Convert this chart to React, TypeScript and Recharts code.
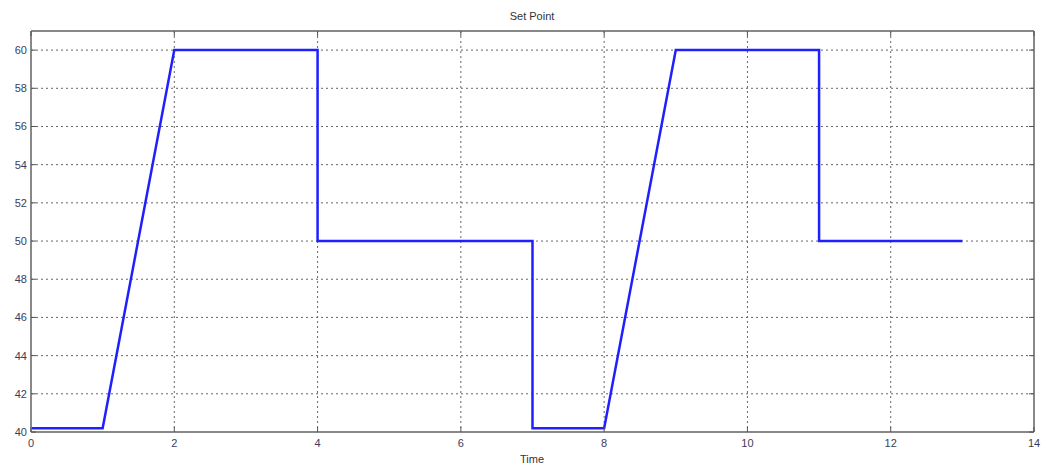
import React from "react";
import { LineChart, Line, XAxis, YAxis, CartesianGrid, ReferenceLine } from "recharts";

// set point profile over time
const times = [0, 1, 2, 4, 4, 7, 7, 8, 9, 11, 11, 13];
const setPoints = [40.2, 40.2, 60, 60, 50, 50, 40.2, 40.2, 60, 60, 50, 50];
const xTicks = [0, 2, 4, 6, 8, 10, 12, 14];
const yTicks = [40, 42, 44, 46, 48, 50, 52, 54, 56, 58, 60];

const W = 1042;
const H = 468;
const M = { top: 31, right: 8, left: 31, bottom: 36 };
const plotW = W - M.left - M.right;
const plotH = H - M.top - M.bottom;

const data = times.map((t, i) => ({ t, sp: setPoints[i] }));

const labelColor = "#3c3c5c";
const font = "'Liberation Sans', Arial, sans-serif";

// MATLAB style ticks: inside the box, on both sides
const YTick = ({ x, y, payload }: any) => (
  <g>
    <line x1={x} x2={x + 5} y1={y} y2={y} stroke="#555" strokeWidth={1} />
    <line x1={x + plotW - 5} x2={x + plotW} y1={y} y2={y} stroke="#555" strokeWidth={1} />
    <text x={x - 4} y={y} dy={4} textAnchor="end" fontSize={11} fill={labelColor} fontFamily={font}>
      {payload.value}
    </text>
  </g>
);

const XTick = ({ x, y, payload }: any) => (
  <g>
    <line x1={x} x2={x} y1={y} y2={y - 5} stroke="#555" strokeWidth={1} />
    <line x1={x} x2={x} y1={y - plotH} y2={y - plotH + 5} stroke="#555" strokeWidth={1} />
    <text x={x} y={y} dy={15} textAnchor="middle" fontSize={11} fill={labelColor} fontFamily={font}>
      {payload.value}
    </text>
  </g>
);

export default function App() {
  return (
    <div style={{ position: "absolute", left: 0, top: 0, width: W, height: H, background: "#fff", fontFamily: font }}>
      <div style={{ position: "absolute", top: 10, width: W + 22, textAlign: "center", fontSize: 11, color: "#333" }}>
        Set Point
      </div>
      <div style={{ position: "absolute", top: 453, left: 0, width: W + 22, textAlign: "center", fontSize: 11, color: "#333" }}>
        Time
      </div>
      <LineChart width={W} height={H} data={data} margin={{ top: M.top, right: M.right, left: 0, bottom: 0 }}>
        <CartesianGrid stroke="#666" strokeDasharray="2 3" strokeWidth={1} />
        <XAxis
          dataKey="t"
          type="number"
          domain={[0, 14]}
          ticks={xTicks}
          interval={0}
          axisLine={{ stroke: "#888", strokeWidth: 2 }}
          tickLine={false}
          tickSize={0}
          tickMargin={0}
          tick={<XTick />}
          height={M.bottom}
        />
        <YAxis
          type="number"
          domain={[40, 61]}
          ticks={yTicks}
          interval={0}
          axisLine={{ stroke: "#888", strokeWidth: 2 }}
          tickLine={false}
          tickSize={0}
          tickMargin={0}
          tick={<YTick />}
          width={M.left}
        />
        <ReferenceLine y={61} stroke="#888" strokeWidth={2} />
        <ReferenceLine x={14} stroke="#888" strokeWidth={2} />
        <Line
          type="linear"
          dataKey="sp"
          stroke="#2020ff"
          strokeWidth={2.5}
          dot={false}
          isAnimationActive={false}
        />
      </LineChart>
    </div>
  );
}
